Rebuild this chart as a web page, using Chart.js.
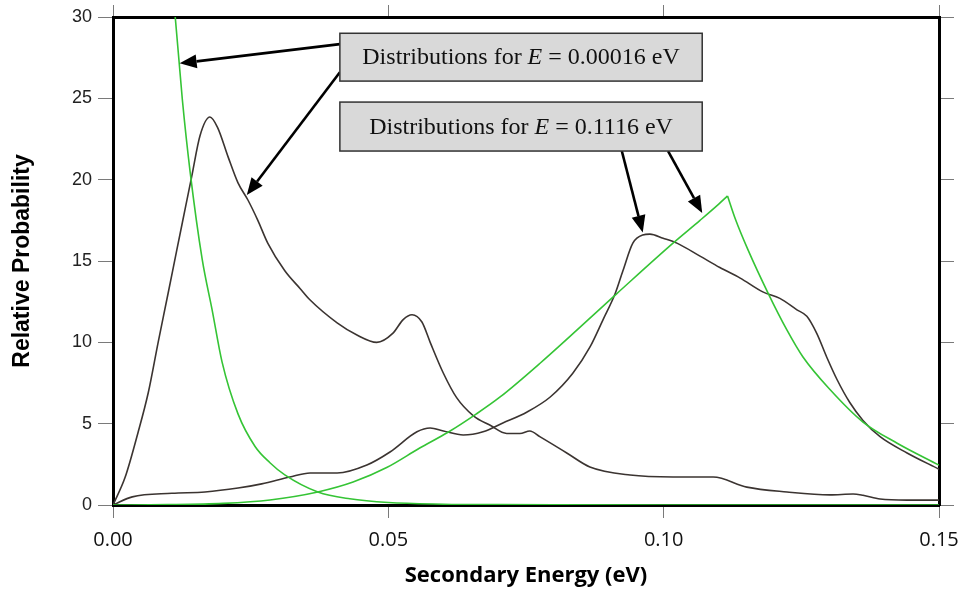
<!DOCTYPE html>
<html>
<head>
<meta charset="utf-8">
<title>Secondary energy distributions</title>
<script src="https://cdn.jsdelivr.net/npm/chart.js@4.4.1/dist/chart.umd.min.js"></script>
<style>
    html, body { margin: 0; padding: 0; background: #fff; }
    #chart { display: block; }
</style>
</head>
<body>
<canvas id="chart" width="964" height="593"></canvas>
<script>
// Axis ticks
const xTicks = [0, 0.05, 0.10, 0.15];
const yTicks = [0, 5, 10, 15, 20, 25, 30];

// E = 0.00016 eV, free gas (green)
const gasLowX = [0.0105, 0.0113, 0.0126, 0.014, 0.0162, 0.018, 0.0198, 0.0227, 0.0258, 0.0285, 0.0312, 0.0372, 0.043, 0.05, 0.06, 0.07, 0.08, 0.10, 0.15];
const gasLowY = [33.5, 30.0, 24.9, 20.5, 15.1, 12.0, 8.8, 5.6, 3.6, 2.6, 1.85, 0.8, 0.38, 0.15, 0.05, 0.02, 0.01, 0, 0];

// E = 0.00016 eV, detailed (brown)
const mdLowX = [0, 0.0022, 0.0045, 0.0064, 0.0082, 0.010, 0.0116, 0.0131, 0.0143, 0.0158, 0.0176, 0.019, 0.0209, 0.0227, 0.0245, 0.0263, 0.0281, 0.0312, 0.034, 0.0358, 0.0407, 0.0443, 0.0479, 0.0508, 0.0527, 0.0543, 0.0561, 0.0576, 0.060, 0.0624, 0.0654, 0.0685, 0.0715, 0.0739, 0.0757, 0.0775, 0.0824, 0.0866, 0.0939, 0.1017, 0.109, 0.1151, 0.1224, 0.1302, 0.1344, 0.1362, 0.1393, 0.1442, 0.15];
const mdLowY = [0, 1.7, 4.4, 6.9, 10.0, 13.0, 15.7, 18.2, 20.2, 22.7, 23.85, 23.2, 21.4, 19.8, 18.75, 17.5, 16.1, 14.4, 13.3, 12.6, 11.2, 10.45, 10.0, 10.55, 11.4, 11.7, 11.25, 10.0, 8.1, 6.6, 5.5, 4.9, 4.4, 4.4, 4.55, 4.2, 3.2, 2.34, 1.84, 1.72, 1.72, 1.1, 0.8, 0.62, 0.68, 0.6, 0.37, 0.3, 0.3];

// E = 0.1116 eV, free gas (green) - up to the cusp, then down
const gasHighRiseX = [0, 0.01, 0.02, 0.0285, 0.0372, 0.0436, 0.0497, 0.0557, 0.061, 0.066, 0.0703, 0.0775, 0.0915, 0.1017, 0.1066, 0.110, 0.1116];
const gasHighRiseY = [0, 0.02, 0.1, 0.31, 0.8, 1.41, 2.3, 3.5, 4.5, 5.6, 6.64, 8.7, 13.0, 16.1, 17.5, 18.5, 19.0];
const gasHighFallX = [0.1116, 0.113, 0.1153, 0.119, 0.1224, 0.1253, 0.1302, 0.1362, 0.1424, 0.15];
const gasHighFallY = [19.0, 17.6, 15.7, 13.0, 10.75, 9.1, 7.1, 5.1, 3.8, 2.45];

// E = 0.1116 eV, detailed (brown)
const mdHighX = [0, 0.0035, 0.0107, 0.0167, 0.0227, 0.027, 0.0321, 0.0358, 0.0407, 0.0461, 0.0503, 0.0552, 0.0576, 0.060, 0.0636, 0.0672, 0.0708, 0.0752, 0.0794, 0.0835, 0.0866, 0.089, 0.0912, 0.0926, 0.0944, 0.0962, 0.0975, 0.0999, 0.1024, 0.1066, 0.1102, 0.1139, 0.118, 0.1211, 0.1242, 0.126, 0.1278, 0.1296, 0.1315, 0.1338, 0.1362, 0.1393, 0.1442, 0.15];
const mdHighY = [0, 0.5, 0.72, 0.8, 1.04, 1.3, 1.72, 1.97, 1.97, 2.46, 3.26, 4.5, 4.73, 4.55, 4.3, 4.5, 5.04, 5.72, 6.64, 8.1, 9.7, 11.4, 13.0, 14.4, 16.1, 16.6, 16.65, 16.4, 16.1, 15.3, 14.6, 13.95, 13.1, 12.7, 12.0, 11.6, 10.55, 9.1, 7.7, 6.3, 5.2, 4.2, 3.2, 2.2];

// Callout boxes and arrows (data coordinates)
const calloutLabels = ['0.00016', '0.1116'];
const calloutBoxes = [
    { x0: 0.0412, x1: 0.1070, yTop: 29.0, yBottom: 26.06 },
    { x0: 0.0412, x1: 0.1070, yTop: 24.77, yBottom: 21.76 }
];
const calloutArrows = [
    { from: [0.0412, 28.33], to: [0.0121, 27.15] },
    { from: [0.0412, 26.6], to: [0.0243, 19.05] },
    { from: [0.0924, 21.76], to: [0.0962, 16.75] },
    { from: [0.1008, 21.76], to: [0.1070, 17.95] }
];

const GREEN = '#35c435';
const BROWN = '#3b3431';
const TICK_GREY = '#7a7a7a';

function toPoints(xs, ys) {
    return xs.map((x, i) => ({ x: x, y: ys[i] }));
}

function lineDataset(label, xs, ys, color) {
    return {
        label: label,
        data: toPoints(xs, ys),
        borderColor: color,
        borderWidth: 1.6,
        pointRadius: 0,
        fill: false,
        cubicInterpolationMode: 'monotone'
    };
}

/**
 * Draw an arrow with a filled head at "to"
 */
function drawArrow(ctx, x0, y0, x1, y1) {
    const ang = Math.atan2(y1 - y0, x1 - x0);
    const headLen = 17;
    const headHalf = 7;
    const bx = x1 - headLen * Math.cos(ang);
    const by = y1 - headLen * Math.sin(ang);

    ctx.beginPath();
    ctx.moveTo(x0, y0);
    ctx.lineTo(bx, by);
    ctx.lineWidth = 2.6;
    ctx.strokeStyle = '#000';
    ctx.stroke();

    ctx.beginPath();
    ctx.moveTo(x1, y1);
    ctx.lineTo(bx + headHalf * Math.sin(ang), by - headHalf * Math.cos(ang));
    ctx.lineTo(bx - headHalf * Math.sin(ang), by + headHalf * Math.cos(ang));
    ctx.closePath();
    ctx.fillStyle = '#000';
    ctx.fill();
}

// Boxes with "Distributions for E = ... eV" and their arrows
const calloutPlugin = {
    id: 'callouts',
    afterDatasetsDraw(chart) {
        const ctx = chart.ctx;
        const xs = chart.scales.x;
        const ys = chart.scales.y;

        ctx.save();
        calloutArrows.forEach(a => {
            drawArrow(ctx,
                xs.getPixelForValue(a.from[0]), ys.getPixelForValue(a.from[1]),
                xs.getPixelForValue(a.to[0]), ys.getPixelForValue(a.to[1]));
        });

        calloutBoxes.forEach((b, i) => {
            const left = xs.getPixelForValue(b.x0);
            const right = xs.getPixelForValue(b.x1);
            const top = ys.getPixelForValue(b.yTop);
            const bottom = ys.getPixelForValue(b.yBottom);

            ctx.fillStyle = '#d9d9d9';
            ctx.fillRect(left, top, right - left, bottom - top);
            ctx.lineWidth = 1.5;
            ctx.strokeStyle = '#333';
            ctx.strokeRect(left, top, right - left, bottom - top);

            // text in three runs so the E can be italic
            const upright = '24px "Liberation Serif", "DejaVu Serif", serif';
            const italic = 'italic 24px "Liberation Serif", "DejaVu Serif", serif';
            const parts = [
                { t: 'Distributions for ', f: upright },
                { t: 'E', f: italic },
                { t: ' = ' + calloutLabels[i] + ' eV', f: upright }
            ];
            let total = 0;
            parts.forEach(p => { ctx.font = p.f; p.w = ctx.measureText(p.t).width; total += p.w; });
            let tx = (left + right) / 2 - total / 2;
            const ty = (top + bottom) / 2 + 1;
            ctx.fillStyle = '#111';
            ctx.textBaseline = 'middle';
            ctx.textAlign = 'left';
            parts.forEach(p => {
                ctx.font = p.f;
                ctx.fillText(p.t, tx, ty);
                tx += p.w;
            });
        });
        ctx.restore();
    }
};

function fixedSize(prop, value) {
    return function(scale) {
        scale[prop] = value;
        // labels at the ends must not push the plot area in
        scale.paddingLeft = 0;
        scale.paddingRight = 0;
    };
}

const frame = { display: true, color: '#000', width: 3 };

const config = {
    type: 'line',
    data: {
        datasets: [
            lineDataset('Free gas, E = 0.00016 eV', gasLowX, gasLowY, GREEN),
            lineDataset('Free gas, E = 0.1116 eV (rise)', gasHighRiseX, gasHighRiseY, GREEN),
            lineDataset('Free gas, E = 0.1116 eV (fall)', gasHighFallX, gasHighFallY, GREEN),
            lineDataset('Detailed, E = 0.00016 eV', mdLowX, mdLowY, BROWN),
            lineDataset('Detailed, E = 0.1116 eV', mdHighX, mdHighY, BROWN)
        ]
    },
    options: {
        responsive: false,
        animation: false,
        layout: { padding: 0 },
        plugins: {
            legend: { display: false },
            tooltip: { enabled: false }
        },
        scales: {
            x: {
                type: 'linear',
                position: 'bottom',
                min: 0,
                max: 0.15,
                afterBuildTicks: scale => { scale.ticks = xTicks.map(v => ({ value: v })); },
                afterFit: fixedSize('height', 88),
                border: frame,
                grid: { drawOnChartArea: false, color: TICK_GREY, tickLength: 13, tickWidth: 1 },
                ticks: {
                    color: '#111',
                    padding: 10,
                    font: { family: '"Open Sans", sans-serif', size: 20 },
                    callback: v => v.toFixed(2)
                },
                title: {
                    display: true,
                    text: 'Secondary Energy (eV)',
                    color: '#000',
                    padding: { top: 0, bottom: 4 },
                    font: { family: '"Open Sans", sans-serif', size: 22, weight: 'bold' }
                }
            },
            xTop: {
                type: 'linear',
                position: 'top',
                min: 0,
                max: 0.15,
                afterBuildTicks: scale => { scale.ticks = xTicks.map(v => ({ value: v })); },
                afterFit: fixedSize('height', 17),
                border: frame,
                grid: { drawOnChartArea: false, color: TICK_GREY, tickLength: 12, tickWidth: 1 },
                ticks: { display: false }
            },
            y: {
                type: 'linear',
                position: 'left',
                min: 0,
                max: 30,
                afterBuildTicks: scale => { scale.ticks = yTicks.map(v => ({ value: v })); },
                afterFit: fixedSize('width', 113),
                border: frame,
                grid: { drawOnChartArea: false, color: TICK_GREY, tickLength: 15, tickWidth: 1 },
                ticks: {
                    color: '#222',
                    padding: 6,
                    font: { family: '"Liberation Sans", Arial, sans-serif', size: 18 }
                },
                title: {
                    display: true,
                    text: 'Relative Probability',
                    color: '#000',
                    padding: { top: 9, bottom: 0 },
                    font: { family: '"Liberation Sans", Arial, sans-serif', size: 23, weight: 'bold' }
                }
            },
            yRight: {
                type: 'linear',
                position: 'right',
                min: 0,
                max: 30,
                afterBuildTicks: scale => { scale.ticks = yTicks.map(v => ({ value: v })); },
                afterFit: fixedSize('width', 25),
                border: frame,
                grid: { drawOnChartArea: false, color: TICK_GREY, tickLength: 15, tickWidth: 1 },
                ticks: { display: false }
            }
        }
    },
    plugins: [calloutPlugin]
};

document.addEventListener('DOMContentLoaded', function() {
    new Chart(document.getElementById('chart'), config);
});
</script>
</body>
</html>
